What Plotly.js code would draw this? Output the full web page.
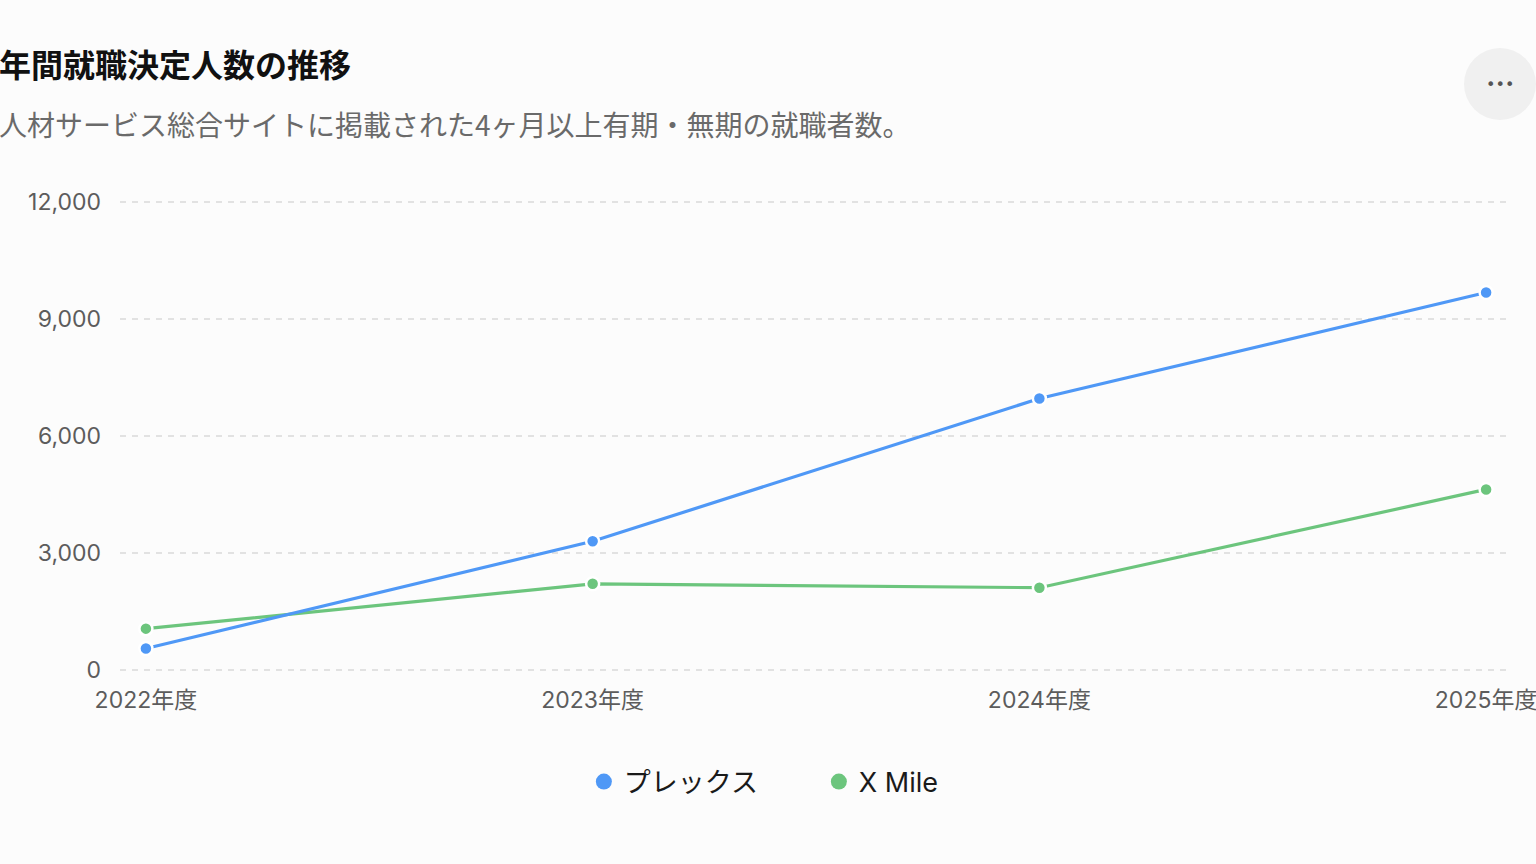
<!DOCTYPE html>
<html>
<head>
<meta charset="utf-8">
<script src="https://cdn.plot.ly/plotly-3.0.1.min.js"></script>
<style>
  html, body { margin: 0; padding: 0; background: #fcfcfc; }
  #chart { width: 1536px; height: 864px; }
</style>
</head>
<body>
<div id="chart"></div>
<script>
const YEARS = ['2022年度', '2023年度', '2024年度', '2025年度'];
const PLEX = [550, 3300, 6960, 9680];
const XMILE = [1060, 2210, 2110, 4630];
const Y_TICKS = [0, 3000, 6000, 9000, 12000];

const BLUE = '#4f98f6';
const GREEN = '#6cc57d';
const TICK_COLOR = '#5c5c5c';
const FONT = 'Inter, "Noto Sans CJK JP", sans-serif';

// plot box in pixels, used to place the header texts in paper coords
const PLOT_L = 120, PLOT_W = 1388, PLOT_B = 672, PLOT_H = 472;
const px = (x) => (x - PLOT_L) / PLOT_W;
const py = (y) => (PLOT_B - y) / PLOT_H;

const lineTrace = (name, values, color) => ({
  x: YEARS,
  y: values,
  name: name,
  type: 'scatter',
  mode: 'lines+markers',
  showlegend: false,
  cliponaxis: false,
  line: { color: color, width: 3.2 },
  marker: { color: color, size: 13, line: { color: '#ffffff', width: 2.5 } }
});

// legend only shows the dot, not the line
const legendTrace = (name, color) => ({
  x: [null],
  y: [null],
  name: name,
  type: 'scatter',
  mode: 'markers',
  marker: { color: color, size: 20 }
});

const data = [
  lineTrace('XMile', XMILE, GREEN),
  lineTrace('プレックス', PLEX, BLUE),
  legendTrace('プレックス', BLUE),
  legendTrace('X Mile', GREEN)
];

const layout = {
  width: 1536,
  height: 864,
  paper_bgcolor: '#fcfcfc',
  plot_bgcolor: '#fcfcfc',
  margin: { t: 200, l: 120, r: 28, b: 192 },
  font: { family: FONT, color: TICK_COLOR },
  hovermode: false,
  xaxis: {
    type: 'category',
    range: [-0.058, 3.049],
    showgrid: false,
    zeroline: false,
    showline: false,
    ticks: '',
    ticklabelstandoff: 12,
    tickfont: { size: 23, color: TICK_COLOR }
  },
  yaxis: {
    range: [-51.3, 12051.3],
    tickvals: Y_TICKS,
    tickformat: ',d',
    showgrid: true,
    gridcolor: '#e2e2e2',
    gridwidth: 1.5,
    griddash: '6px,6px',
    zeroline: false,
    showline: false,
    ticks: '',
    ticklabelstandoff: 18,
    tickfont: { size: 23, color: TICK_COLOR }
  },
  legend: {
    orientation: 'h',
    x: 0.5035,
    xanchor: 'center',
    y: py(782),
    yanchor: 'middle',
    entrywidth: 190,
    font: { size: 27, color: '#1a1a1a' }
  },
  annotations: [
    {
      text: '<b>年間就職決定人数の推移</b>',
      xref: 'paper', yref: 'paper',
      x: px(-3), y: py(63),
      xanchor: 'left', yanchor: 'middle',
      showarrow: false,
      font: { family: '"Noto Sans CJK JP", sans-serif', size: 32, color: '#111111' }
    },
    {
      text: '人材サービス総合サイトに掲載された4ヶ月以上有期・無期の就職者数。',
      xref: 'paper', yref: 'paper',
      x: px(-3), y: py(124),
      xanchor: 'left', yanchor: 'middle',
      showarrow: false,
      font: { family: '"Noto Sans CJK JP", sans-serif', size: 28, color: '#6a6a6a' }
    },
    {
      text: '•••',
      xref: 'paper', yref: 'paper',
      x: px(1500), y: py(84),
      xanchor: 'center', yanchor: 'middle',
      showarrow: false,
      font: { family: 'DejaVu Sans', size: 16, color: '#555555' }
    }
  ],
  shapes: [
    {
      type: 'circle',
      xref: 'paper', yref: 'paper',
      x0: px(1464), x1: px(1536),
      y0: py(120), y1: py(48),
      fillcolor: '#f0f0f0',
      line: { width: 0 },
      layer: 'below'
    }
  ]
};

Plotly.newPlot('chart', data, layout, { displayModeBar: false, staticPlot: true });
</script>
</body>
</html>
